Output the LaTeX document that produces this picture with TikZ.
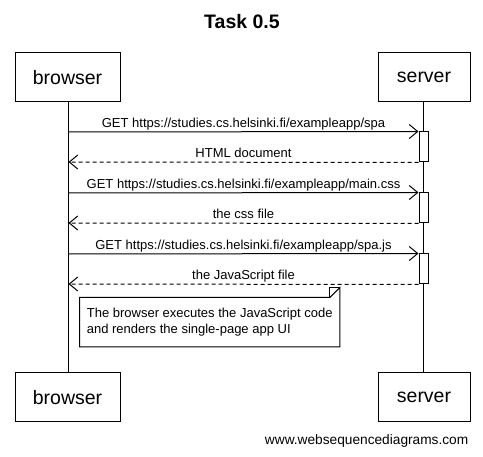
\documentclass[tikz,border=0pt]{standalone}
\usepackage{fontspec}
\setmainfont{Liberation Sans}
\usetikzlibrary{arrows.meta}
\begin{document}
\begin{tikzpicture}[x=1pt,y=-1pt,
  actor/.style={draw,line width=1pt,inner sep=0pt,font=\fontsize{19.5}{22}\selectfont},
  life/.style={line width=1pt},
  act/.style={draw,fill=white,line width=1pt,minimum width=9pt,inner sep=0pt},
  msg/.style={line width=1pt,-{Straight Barb[length=8.5pt,width=14pt,line width=1pt]}},
  ret/.style={msg,dash pattern=on 4pt off 3pt},
  lbl/.style={midway,above,inner sep=1pt,text height=10pt,text depth=3pt,font=\fontsize{13}{16}\selectfont},
  notebox/.style={line width=1pt}
]
\useasboundingbox (0,0) rectangle (483,457);
\fill[white] (0,0) rectangle (483,457);
% title
\node[font=\fontsize{19.5}{22}\bfseries\selectfont] (title) at (242,22) {Task 0.5};
% actors
\node[actor,minimum width=105pt,minimum height=49pt] (bt) at (67.5,77.5) {browser};
\node[actor,minimum width=92pt,minimum height=49pt] (st) at (424,77.5) {server};
\node[actor,minimum width=105pt,minimum height=49pt] (bb) at (67.5,397.5) {browser};
\node[actor,minimum width=92pt,minimum height=49pt] (sb) at (424,397.5) {server};
% lifelines
\coordinate (btl) at (68.5,102);
\coordinate (bbl) at (68.5,373);
\coordinate (stl) at (423,102);
\coordinate (sbl) at (423,373);
\draw[life] (btl) -- (bbl);
\draw[life] (stl) -- (sbl);
% activations
\node[act,minimum height=30pt] (a1) at (423.5,147) {};
\node[act,minimum height=30pt] (a2) at (423.5,208) {};
\node[act,minimum height=30pt] (a3) at (423.5,269) {};
% message endpoints on browser lifeline
\coordinate (m1) at (68.5,132);
\coordinate (r1) at (68.5,162);
\coordinate (m2) at (68.5,193);
\coordinate (r2) at (68.5,223);
\coordinate (m3) at (68.5,254);
\coordinate (r3) at (68.5,284);
\draw[msg] (m1) -- (a1.north west) node[lbl] {GET https://studies.cs.helsinki.fi/exampleapp/spa};
\draw[ret] (a1.south west) -- (r1) node[lbl] {HTML document};
\draw[msg] (m2) -- (a2.north west) node[lbl] {GET https://studies.cs.helsinki.fi/exampleapp/main.css};
\draw[ret] (a2.south west) -- (r2) node[lbl] {the css file};
\draw[msg] (m3) -- (a3.north west) node[lbl] {GET https://studies.cs.helsinki.fi/exampleapp/spa.js};
\draw[ret] (a3.south west) -- (r3) node[lbl] {the JavaScript file};
% note
\node[minimum width=260pt,minimum height=49pt,inner xsep=7pt,inner ysep=0pt,align=left,
  font=\fontsize{13}{16}\selectfont,anchor=north west] (note) at (79.5,297.5)
  {The browser executes the JavaScript code\\and renders the single-page app UI};
\draw[notebox] (note.north west) -- ([xshift=-10pt]note.north east) -- ([yshift=10pt]note.north east)
  -- (note.south east) -- (note.south west) -- cycle;
\draw[notebox] ([xshift=-10pt]note.north east) -- ([xshift=-10pt,yshift=10pt]note.north east) -- ([yshift=10pt]note.north east);
% footer
\node[anchor=east,inner sep=0pt,font=\fontsize{13.7}{16}\selectfont] (footer) at (468.5,441) {www.websequencediagrams.com};
\end{tikzpicture}
\end{document}
